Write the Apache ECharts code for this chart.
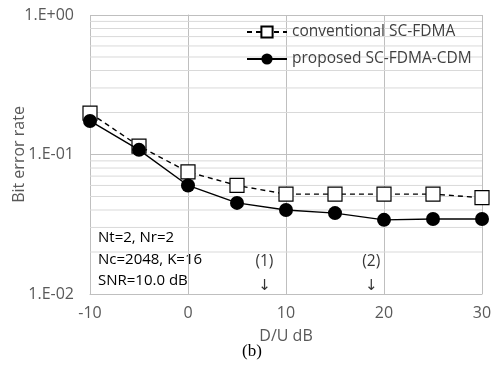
<!DOCTYPE html>
<html>
<head>
<meta charset="utf-8">
<script src="https://cdn.jsdelivr.net/npm/echarts@6/dist/echarts.min.js"></script>
<style>html,body{margin:0;padding:0;background:#fff}#c{width:500px;height:367px}</style>
</head>
<body>
<div id="c"></div>
<script>
const duValues = [-10, -5, 0, 5, 10, 15, 20, 25, 30];
const conventional = [0.198, 0.115, 0.075, 0.060, 0.052, 0.052, 0.052, 0.052, 0.049];
const proposed = [0.174, 0.108, 0.060, 0.045, 0.040, 0.038, 0.034, 0.0345, 0.0345];
const seriesNames = ['conventional SC-FDMA', 'proposed SC-FDMA-CDM'];
const minorGrid = [0.02,0.03,0.04,0.05,0.06,0.07,0.08,0.09,0.2,0.3,0.4,0.5,0.6,0.7,0.8,0.9];
const infoLines = ['Nt=2, Nr=2', 'Nc=2048, K=16', 'SNR=10.0 dB'];
const arrowMarks = [{x: 7.8, label: '(1)'}, {x: 18.7, label: '(2)'}];

const FONT = 'Open Sans';
const chart = echarts.init(document.getElementById('c'), null, {renderer: 'canvas'});
const fmtLog = v => {
  const e = Math.round(Math.log10(v));
  const s = e < 0 ? '-' : '+';
  return '1.E' + s + String(Math.abs(e)).padStart(2, '0');
};
const gridSeries = minorGrid.map(v => ({
  type: 'line', silent: true, symbol: 'none', z: 1,
  data: [[-10, v], [30, v]],
  lineStyle: {color: '#d9d9d9', width: 1}
}));
chart.setOption({
  animation: false,
  grid: {left: 90, right: 18, top: 15, bottom: 73, containLabel: false, outerBoundsMode: 'none'},
  legend: {
    orient: 'vertical', left: 241, top: 19, itemWidth: 40, itemHeight: 14, itemGap: 11,
    textStyle: {fontFamily: FONT, fontSize: 15.5, color: '#404040'},
    data: seriesNames
  },
  xAxis: {
    type: 'value', min: -10, max: 30, interval: 10,
    name: 'D/U dB', nameLocation: 'middle', nameGap: 34,
    nameTextStyle: {fontFamily: FONT, fontSize: 16, color: '#595959'},
    axisLine: {show: true, lineStyle: {color: '#bfbfbf'}},
    axisTick: {show: false},
    axisLabel: {fontFamily: FONT, fontSize: 16, color: '#595959', margin: 11},
    splitLine: {show: true, lineStyle: {color: '#bfbfbf'}}
  },
  yAxis: {
    type: 'log', logBase: 10, min: 0.01, max: 1,
    name: 'Bit error rate', nameLocation: 'middle', nameGap: 63, nameMoveOverlap: false,
    nameTextStyle: {fontFamily: FONT, fontSize: 16, color: '#595959'},
    axisLine: {show: true, lineStyle: {color: '#bfbfbf'}},
    axisTick: {show: false},
    axisLabel: {fontFamily: FONT, fontSize: 16, color: '#595959', margin: 16, formatter: fmtLog},
    splitLine: {show: true, lineStyle: {color: '#bfbfbf'}}
  },
  series: gridSeries.concat([
    {
      name: seriesNames[0], type: 'line',
      data: duValues.map((x, i) => [x, conventional[i]]),
      symbol: 'rect', symbolSize: 14,
      itemStyle: {color: '#fff', borderColor: '#000', borderWidth: 1.2},
      lineStyle: {color: '#000', width: 1.4, type: [5, 4]},
      z: 3
    },
    {
      name: seriesNames[1], type: 'line',
      data: duValues.map((x, i) => [x, proposed[i]]),
      symbol: 'circle', symbolSize: 14,
      itemStyle: {color: '#000'},
      lineStyle: {color: '#000', width: 1.4},
      z: 4
    },
    {
      type: 'scatter', silent: true, symbolSize: 0,
      data: arrowMarks.map(a => [a.x, 0.0113]),
      label: {show: true, position: 'inside', formatter: '↓', fontSize: 15, color: '#000', fontFamily: 'DejaVu Sans'}
    },
    {
      type: 'scatter', silent: true, symbolSize: 0,
      data: arrowMarks.map(a => [a.x, 0.017]),
      label: {show: true, position: 'inside', formatter: p => arrowMarks[p.dataIndex].label, fontSize: 15.5, color: '#000', fontFamily: FONT}
    }
  ]),
  graphic: [
    {type: 'text', left: 98, top: 227, style: {text: infoLines.join('\n'), font: '15px "Open Sans"', lineHeight: 21.5, fill: '#000'}},
    {type: 'text', left: 242, top: 343, style: {text: '(b)', font: '17px "Liberation Serif"', fill: '#000'}}
  ]
});
</script>
</body>
</html>
